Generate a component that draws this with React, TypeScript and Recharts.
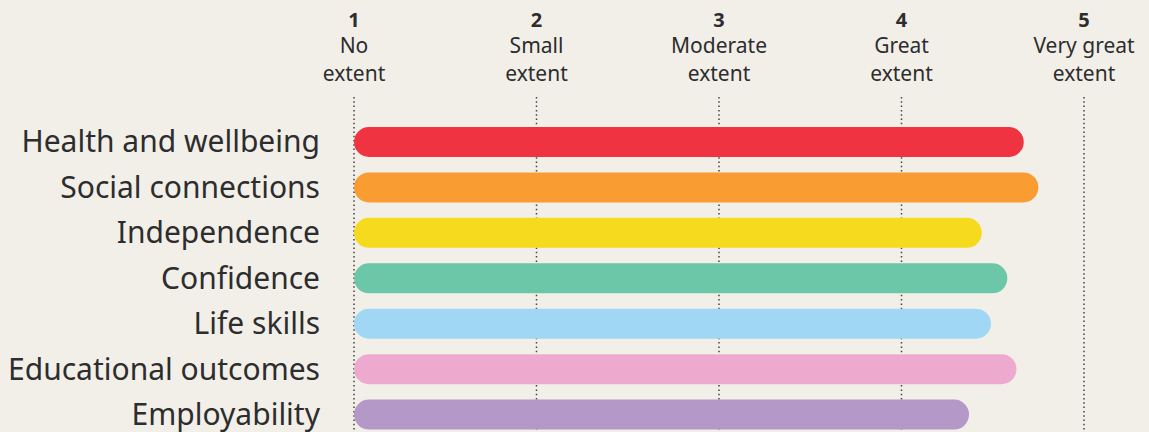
import { BarChart, Bar, XAxis, YAxis, CartesianGrid, Cell } from 'recharts'

const categories = [
  'Health and wellbeing',
  'Social connections',
  'Independence',
  'Confidence',
  'Life skills',
  'Educational outcomes',
  'Employability',
]

const scores = [4.67, 4.75, 4.44, 4.58, 4.49, 4.63, 4.37]

const barColors = ['#EF3340', '#F99D33', '#F6DA1E', '#6CC6A8', '#9FD7F4', '#EEAACE', '#B398C8']

const scaleTicks = [1, 2, 3, 4, 5]
const scaleLabels = [
  ['No', 'extent'],
  ['Small', 'extent'],
  ['Moderate', 'extent'],
  ['Great', 'extent'],
  ['Very great', 'extent'],
]

const data = categories.map((name, i) => ({ name, score: scores[i] }))

const textColor = '#2d2d2d'

function ScaleTick({ x, y, payload }: { x?: number; y?: number; payload?: { value: number } }) {
  if (x == null || y == null || !payload) return null
  const idx = scaleTicks.indexOf(payload.value)
  const lines = scaleLabels[idx] ?? []
  return (
    <g>
      <text x={x} y={y - 70} textAnchor="middle" fontSize={20} fontWeight={700} fill={textColor}>
        {payload.value}
      </text>
      {lines.map((line, i) => (
        <text key={i} x={x} y={y - 44 + i * 28} textAnchor="middle" fontSize={21} fill={textColor}>
          {line}
        </text>
      ))}
    </g>
  )
}

export default function App() {
  return (
    <div
      style={{
        position: 'fixed',
        inset: 0,
        background: '#F2EFE9',
        overflow: 'hidden',
        fontFamily: '"Noto Sans", sans-serif',
      }}
    >
      <BarChart
        width={1149}
        height={437}
        data={data}
        layout="vertical"
        margin={{ top: 0, right: 65, bottom: 0, left: 0 }}
      >
        <CartesianGrid
          horizontal={false}
          stroke="#444"
          strokeWidth={1.5}
          strokeDasharray="1.5 2.8"
        />
        <XAxis
          type="number"
          orientation="top"
          domain={[1, 5]}
          ticks={scaleTicks}
          interval={0}
          height={97}
          axisLine={false}
          tickLine={false}
          tickSize={0}
          tickMargin={0}
          tick={<ScaleTick />}
        />
        <YAxis
          type="category"
          dataKey="name"
          width={354}
          axisLine={false}
          tickLine={false}
          tickSize={0}
          tickMargin={34}
          padding={{ top: 22, bottom: 0 }}
          tick={{ fill: textColor, fontSize: 30 }}
          interval={0}
        />
        <Bar dataKey="score" barSize={30} radius={15} isAnimationActive={false}>
          {data.map((d, i) => (
            <Cell key={d.name} fill={barColors[i]} />
          ))}
        </Bar>
      </BarChart>
    </div>
  )
}
